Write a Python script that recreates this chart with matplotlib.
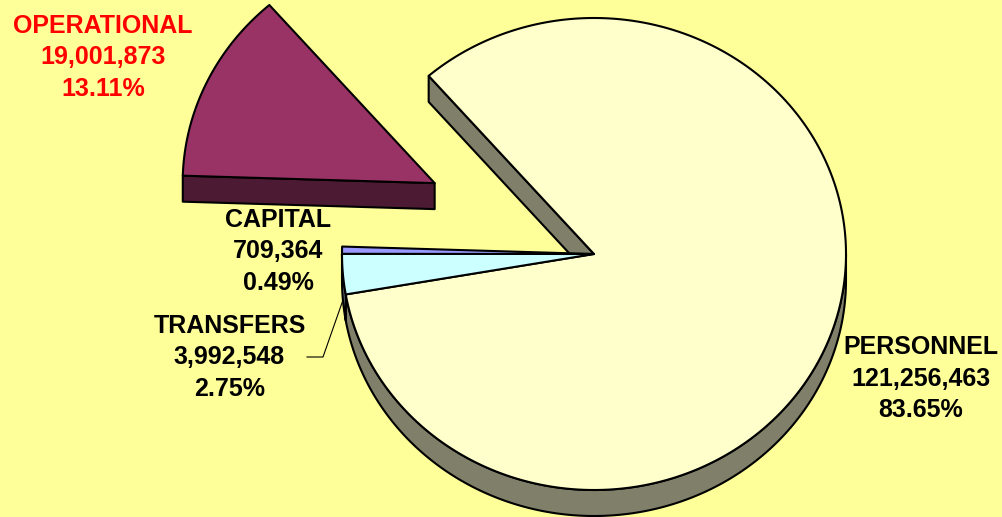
import numpy as np
import matplotlib
matplotlib.use('Agg')
import matplotlib.pyplot as plt
from matplotlib.patches import Polygon

# ---- data (clockwise order, as drawn) ----
categories = ['PERSONNEL', 'TRANSFERS', 'CAPITAL', 'OPERATIONAL']
values = [121256463, 3992548, 709364, 19001873]
explode = [0.0, 0.0, 0.0, 0.7]

# ---- styles ----
top_colors = ['#FFFFCC', '#CCFFFF', '#9999FF', '#993366']
side_colors = ['#80806A', '#6A8080', '#4D4D80', '#4D1A33']
label_colors = ['black', 'black', 'black', '#FF0000']
label_xy = [(921, 354), (229.5, 333), (278, 227), (103, 33)]  # center x, first baseline
line_step = 31.5
BG = '#FFFF99'

W, H = 1003, 517
fig = plt.figure(figsize=(W / 100, H / 100), dpi=100, facecolor=BG)
ax = fig.add_axes([0, 0, 1, 1])
ax.set_xlim(0, W)
ax.set_ylim(H, 0)
ax.axis('off')
ax.set_facecolor(BG)

cx, cy, rx, ry, depth = 594.0, 254.0, 252.0, 236.0, 26.0
start_angle = 131.0
lw = 1.5
total = float(sum(values))
sweeps = [360.0 * v / total for v in values]

# slice intervals [lo, hi] in degrees (math convention), drawn clockwise
intervals = []
a = start_angle
for s in sweeps:
    intervals.append((a - s, a))
    a -= s

def offset(i):
    lo, hi = intervals[i]
    mid = np.radians((lo + hi) / 2)
    e = explode[i]
    return e * rx * np.cos(mid), -e * ry * np.sin(mid)

def pt(theta_deg, off, down=0.0):
    t = np.radians(theta_deg)
    return (cx + off[0] + rx * np.cos(t), cy + off[1] - ry * np.sin(t) + down)

def arc(lo, hi, off, down=0.0, n=None):
    if n is None:
        n = max(4, int(abs(hi - lo) * 2))
    th = np.linspace(lo, hi, n)
    t = np.radians(th)
    xs = cx + off[0] + rx * np.cos(t)
    ys = cy + off[1] - ry * np.sin(t) + down
    return np.column_stack([xs, ys])

# --- side walls and cut faces ---
n = len(values)
for i in range(n):
    lo, hi = intervals[i]
    off = offset(i)
    # outer wall: visible where sin(theta) < 0
    for k in range(-2, 3):
        a0, a1 = 180 + 360 * k, 360 + 360 * k
        s0, s1 = max(lo, a0), min(hi, a1)
        if s1 > s0:
            topc = arc(s0, s1, off)
            botc = arc(s0, s1, off, depth)[::-1]
            ax.add_patch(Polygon(np.vstack([topc, botc]), closed=True,
                                 facecolor=side_colors[i], edgecolor='black',
                                 lw=lw, joinstyle='round', zorder=2))
    # cut faces next to gaps
    prev_i = (i - 1) % n   # slice adjacent at hi edge
    next_i = (i + 1) % n   # slice adjacent at lo edge
    for edge, nb, vis in ((hi, prev_i, np.cos(np.radians(hi)) < 0),
                          (lo, next_i, np.cos(np.radians(lo)) > 0)):
        if explode[nb] != explode[i] and vis:
            c0 = (cx + off[0], cy + off[1])
            p0 = pt(edge, off)
            poly = [c0, p0, (p0[0], p0[1] + depth), (c0[0], c0[1] + depth)]
            ax.add_patch(Polygon(poly, closed=True, facecolor=side_colors[i],
                                 edgecolor='black', lw=lw, joinstyle='round',
                                 zorder=2))

# --- top faces ---
for i in range(n):
    lo, hi = intervals[i]
    off = offset(i)
    c0 = np.array([[cx + off[0], cy + off[1]]])
    poly = np.vstack([c0, arc(lo, hi, off)])
    ax.add_patch(Polygon(poly, closed=True, facecolor=top_colors[i],
                         edgecolor='black', lw=lw, joinstyle='round', zorder=3))

# --- labels ---
for i in range(n):
    pct = 100.0 * values[i] / total
    lines = [categories[i], f"{values[i]:,}", f"{pct:.2f}%"]
    x0, y0 = label_xy[i]
    for j, t in enumerate(lines):
        ax.text(x0, y0 + j * line_step, t, ha='center', va='baseline',
                fontsize=18, fontweight='bold', family='Liberation Sans',
                color=label_colors[i], zorder=5)

# leader line for TRANSFERS
ti = categories.index('TRANSFERS')
lo, hi = intervals[ti]
anchor = pt((lo + hi) / 2, offset(ti), depth)
ax.plot([307, 323, anchor[0]], [357, 357, anchor[1]], color='black', lw=0.8,
        zorder=4)

fig.savefig('out.png', dpi=100, facecolor=BG)
